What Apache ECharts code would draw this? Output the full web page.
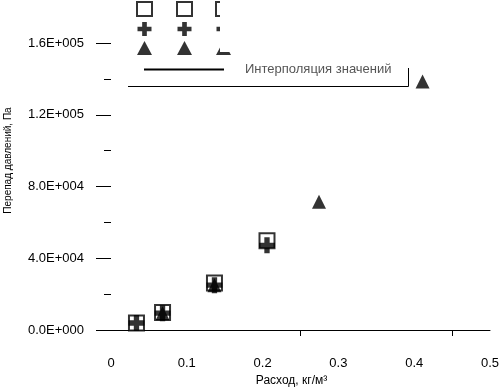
<!DOCTYPE html>
<html>
<head>
<meta charset="utf-8">
<style>
  html, body { margin: 0; padding: 0; background: #fff; }
  #chart { width: 500px; height: 388px; }
</style>
<script src="https://cdn.jsdelivr.net/npm/echarts@6/dist/echarts.min.js"></script>
</head>
<body>
<div id="chart"></div>
<script>
// значения
const seriesNames = ["Серия 1", "Серия 2", "Серия 3"];
const lineName = "Интерполяция значений";

const squareX = [0.0336, 0.068, 0.1365, 0.2058];
const squareY = [3900, 9800, 26200, 49700];

const plusX = [0.0336, 0.068, 0.1365, 0.2058];
const plusY = [3900, 9400, 25000, 47200];

const triangleX = [0.068, 0.1365, 0.2744, 0.411];
const triangleY = [9300, 25000, 71500, 138500];

const xTicks = [0, 0.1, 0.2, 0.3, 0.4, 0.5];
const xTickMarks = [0.25, 0.45];
const yTicks = [0, 40000, 80000, 120000, 160000];

const FONT = "Liberation Sans, Arial, sans-serif";
const PLUS = "path://M5,0H10V5H15V10H10V15H5V10H0V5H5Z";

const sci = (v) => {
  if (v === 0) return "0.0E+000";
  const e = Math.floor(Math.log10(v));
  const m = v / Math.pow(10, e);
  return m.toFixed(1) + "E+" + String(e).padStart(3, "0");
};

const pairs = (xs, ys) => xs.map((x, i) => [x, ys[i]]);

const markerLegend = (left) => ({
  left: left,
  top: 1,
  padding: 0,
  orient: "vertical",
  itemWidth: 15,
  itemHeight: 14,
  itemGap: 5,
  selectedMode: false,
  data: seriesNames,
  formatter: () => "",
});

const chart = echarts.init(document.getElementById("chart"));
chart.setOption({
  animation: false,
  textStyle: { fontFamily: FONT, color: "#000" },
  legend: [
    markerLegend(136),
    markerLegend(176),
    markerLegend(215),
    {
      left: 143,
      top: 63,
      padding: 0,
      itemWidth: 80,
      itemHeight: 14,
      selectedMode: false,
      data: [{ name: lineName, itemStyle: { opacity: 0 } }],
      textStyle: { fontSize: 13, color: "#555", fontFamily: FONT, padding: [0, 0, 0, 16] },
    },
  ],
  graphic: [
    {
      type: "rect",
      z: 100,
      shape: { x: 220, y: 0, width: 18, height: 52 },
      style: { fill: "#fff" },
    },
    {
      type: "polyline",
      z: 100,
      shape: { points: [[128, 86.5], [408.5, 86.5], [408.5, 68]] },
      style: { stroke: "#000", lineWidth: 1, fill: null },
    },
  ],
  grid: { left: 111, right: 10, top: 43, bottom: 58, outerBoundsMode: "none", containLabel: false },
  xAxis: {
    type: "value",
    min: xTicks[0],
    max: xTicks[xTicks.length - 1],
    interval: 0.1,
    name: "Расход, кг/м³",
    nameLocation: "middle",
    nameGap: 44,
    nameTextStyle: { fontSize: 12, color: "#000", fontFamily: FONT, padding: [0, 18, 0, 0] },
    axisLine: { lineStyle: { color: "#000", width: 1 } },
    axisTick: { customValues: xTickMarks, length: 6, lineStyle: { color: "#000" } },
    axisLabel: { margin: 27, fontSize: 13, color: "#000", fontFamily: FONT },
    splitLine: { show: false },
  },
  yAxis: {
    type: "value",
    min: yTicks[0],
    max: yTicks[yTicks.length - 1],
    interval: 40000,
    name: "Перепад давлений, Па",
    nameLocation: "middle",
    nameGap: 98,
    nameTextStyle: { fontSize: 10, color: "#000", fontFamily: FONT, padding: [0, 0, 0, 52] },
    axisLine: { show: false },
    axisTick: { show: true, length: 15, lineStyle: { color: "#000" } },
    minorTick: { show: true, splitNumber: 2, length: 7, lineStyle: { color: "#000" } },
    axisLabel: { margin: 27, fontSize: 13, color: "#000", fontFamily: FONT, formatter: sci },
    splitLine: { show: false },
  },
  series: [
    {
      name: seriesNames[0],
      type: "scatter",
      symbol: "rect",
      symbolSize: 15,
      itemStyle: { color: "#fff", borderColor: "#000", borderWidth: 2 },
      data: pairs(squareX, squareY),
    },
    {
      name: seriesNames[2],
      type: "scatter",
      symbol: "triangle",
      symbolSize: 14,
      itemStyle: { color: "#000" },
      data: pairs(triangleX, triangleY),
    },
    {
      name: seriesNames[1],
      type: "scatter",
      symbol: PLUS,
      symbolSize: 16,
      itemStyle: { color: "#000" },
      data: pairs(plusX, plusY),
    },
    {
      name: lineName,
      type: "line",
      symbol: "none",
      itemStyle: { color: "#000" },
      lineStyle: { color: "#000", width: 1 },
      data: [],
    },
  ],
});
</script>
</body>
</html>
